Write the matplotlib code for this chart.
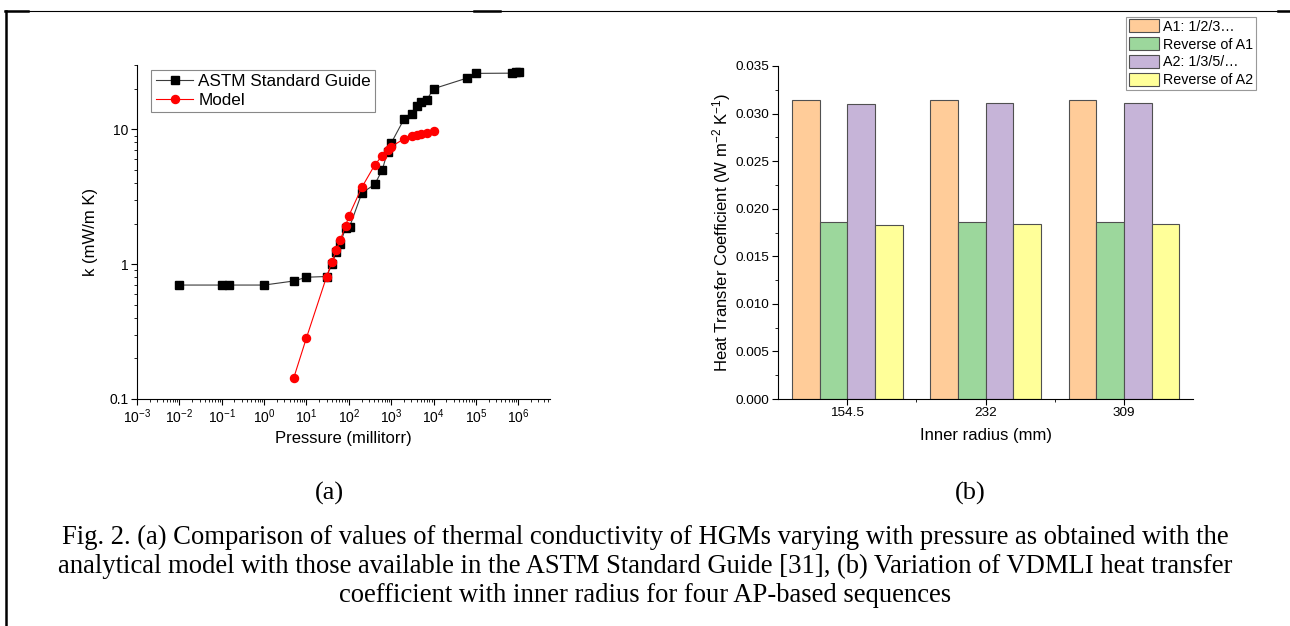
import matplotlib
matplotlib.use('Agg')
import matplotlib.pyplot as plt
import numpy as np
from matplotlib.ticker import LogLocator, FuncFormatter, MultipleLocator, FixedLocator, NullFormatter, FormatStrFormatter
from matplotlib.lines import Line2D

plt.rcParams['font.family'] = ['Liberation Sans', 'DejaVu Sans']
plt.rcParams['mathtext.fontset'] = 'custom'
plt.rcParams['mathtext.rm'] = 'Liberation Sans'
plt.rcParams['mathtext.it'] = 'Liberation Sans:italic'

# ---------------- data ----------------
astm_p = [0.01, 0.1, 0.15, 1, 5, 10, 30, 40, 51, 62, 84, 105, 204, 408, 612, 820, 1000,
          2040, 3080, 4100, 5150, 6900, 10000, 62000, 100000, 720000, 890000, 1050000]
astm_k = [0.70, 0.70, 0.70, 0.70, 0.75, 0.80, 0.81, 1.00, 1.24, 1.40, 1.86, 1.90, 3.38, 3.90,
          4.97, 6.80, 7.90, 12.0, 13.0, 14.9, 16.0, 16.5, 20.0, 24.0, 26.0, 26.1, 26.5, 26.7]

model_p = [5, 10, 30, 40, 51, 62, 84, 100, 204, 408, 612, 820, 1000, 2040, 3080, 4100,
           5150, 6900, 10000]
model_k = [0.143, 0.284, 0.81, 1.04, 1.28, 1.50, 1.91, 2.28, 3.72, 5.43, 6.37, 7.06, 7.43,
           8.53, 8.92, 9.13, 9.29, 9.45, 9.66]

radius_labels = ['154.5', '232', '309']
series_names = ['A1: 1/2/3\u2026', 'Reverse of A1', 'A2: 1/3/5/\u2026', 'Reverse of A2']
a1 = [0.0314, 0.0314, 0.0314]
rev_a1 = [0.0186, 0.0186, 0.0186]
a2 = [0.0310, 0.0311, 0.0311]
rev_a2 = [0.0183, 0.0184, 0.0184]
bar_colors = ['#FFCC99', '#9CD79C', '#C6B4D8', '#FFFF99']

caption = ["Fig. 2. (a) Comparison of values of thermal conductivity of HGMs varying with pressure as obtained with the",
           "analytical model with those available in the ASTM Standard Guide [31], (b) Variation of VDMLI heat transfer",
           "coefficient with inner radius for four AP-based sequences"]

W, H = 1290, 626
fig = plt.figure(figsize=(W / 100, H / 100), dpi=100)

# ---------------- (a) ----------------
ax1 = fig.add_axes([137 / W, 1 - 399 / H, 413 / W, 334 / H])
ax1.set_xscale('log')
ax1.set_yscale('log')
ax1.plot(astm_p, astm_k, '-s', color='#3a3a3a', lw=0.8, ms=5.2, mfc='black', mec='black',
         label='ASTM Standard Guide')
ax1.plot(model_p, model_k, '-o', color='red', lw=0.8, ms=5.8, mfc='red', mec='red',
         label='Model')
ax1.set_xlim(1e-3, 10 ** 6.75)
ax1.set_ylim(0.1, 30)
for s in ['top', 'right']:
    ax1.spines[s].set_visible(False)
ax1.xaxis.set_major_locator(LogLocator(base=10, numticks=20))
ax1.xaxis.set_minor_locator(LogLocator(base=10, subs=np.arange(2, 10), numticks=20))
ax1.xaxis.set_minor_formatter(NullFormatter())
ax1.yaxis.set_major_locator(FixedLocator([0.1, 1, 10]))
ax1.yaxis.set_major_formatter(FuncFormatter(lambda v, p: '{:g}'.format(v)))
ax1.yaxis.set_minor_locator(LogLocator(base=10, subs=np.arange(2, 10), numticks=20))
ax1.yaxis.set_minor_formatter(NullFormatter())
ax1.tick_params(which='major', direction='out', length=4, width=0.8, labelsize=10, pad=2)
ax1.tick_params(which='minor', direction='out', length=2.2, width=0.6)
ax1.set_xlabel('Pressure (millitorr)', fontsize=12, labelpad=4)
ax1.set_ylabel('k (mW/m K)', fontsize=12, labelpad=8)
leg1 = ax1.legend(loc='upper left', bbox_to_anchor=(0.035, 0.985), fontsize=12.3,
                  frameon=True, fancybox=False, edgecolor='#888888', framealpha=1,
                  handlelength=2.2, handletextpad=0.3, borderpad=0.25, labelspacing=0.2,
                  borderaxespad=0)
leg1.get_frame().set_linewidth(0.8)

# ---------------- (b) ----------------
ax2 = fig.add_axes([778 / W, 1 - 399 / H, 415 / W, 333 / H])
x = np.arange(1, len(radius_labels) + 1)
bw = 0.2
for i, (vals, name, col) in enumerate(zip([a1, rev_a1, a2, rev_a2], series_names, bar_colors)):
    ax2.bar(x + (i - 1.5) * bw, vals, bw, color=col, edgecolor='#505050', linewidth=0.8,
            label=name)
ax2.set_xlim(0.5, 3.5)
ax2.set_ylim(0, 0.035)
for s in ['top', 'right']:
    ax2.spines[s].set_visible(False)
ax2.set_xticks(x)
ax2.set_xticklabels(radius_labels)
ax2.xaxis.set_minor_locator(FixedLocator([1.5, 2.5]))
ax2.yaxis.set_major_locator(MultipleLocator(0.005))
ax2.yaxis.set_minor_locator(MultipleLocator(0.0025))
ax2.yaxis.set_major_formatter(FormatStrFormatter('%.3f'))
ax2.tick_params(which='major', direction='out', length=4, width=0.8, labelsize=9.7, pad=2)
ax2.tick_params(which='minor', direction='out', length=2.2, width=0.6)
ax2.set_xlabel('Inner radius (mm)', fontsize=12, labelpad=6)
ax2.set_ylabel('Heat Transfer Coefficient (W m$^{-2}$ K$^{-1}$)', fontsize=12, labelpad=2)
handles, labels = ax2.get_legend_handles_labels()
leg2 = fig.legend(handles, labels, loc='upper right', bbox_to_anchor=(1256 / W, 1 - 16.5 / H),
                  fontsize=10.3, frameon=True, fancybox=False, edgecolor='#999999', framealpha=1,
                  handlelength=2.15, handleheight=1.0, handletextpad=0.25, borderpad=0.2,
                  labelspacing=0.25, borderaxespad=0)
leg2.get_frame().set_linewidth(0.8)

# ---------------- labels and caption ----------------
fig.text(329 / W, 1 - 493 / H, '(a)', ha='center', va='center',
         family='Liberation Serif', fontsize=19)
fig.text(970 / W, 1 - 493 / H, '(b)', ha='center', va='center',
         family='Liberation Serif', fontsize=19)
for j, line in enumerate(caption):
    fig.text(645 / W, 1 - (537 + 29 * j) / H, line, ha='center', va='center',
             family='Liberation Serif', fontsize=19.2)

# ---------------- page border fragments ----------------
ty = 1 - 11 / H
fig.add_artist(Line2D([5 / W, 1], [ty, ty], transform=fig.transFigure, color='black', lw=0.8))
for x0, x1 in [(5, 28), (474, 500), (1278, 1290)]:
    fig.add_artist(Line2D([x0 / W, x1 / W], [ty, ty], transform=fig.transFigure,
                          color='black', lw=1.8))
fig.add_artist(Line2D([6 / W, 6 / W], [ty, 0], transform=fig.transFigure, color='black', lw=1.8))

fig.savefig('out.png', dpi=100)
